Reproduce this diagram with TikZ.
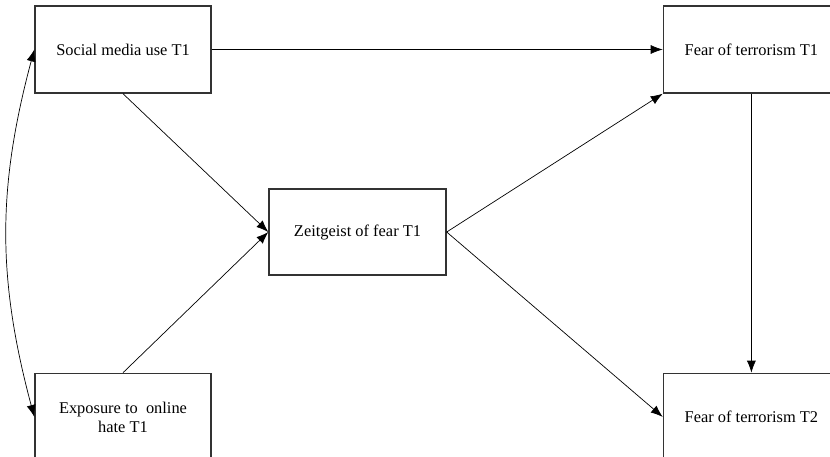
\documentclass[tikz,border=0pt]{standalone}
\usepackage{fontspec}
\setmainfont{Liberation Serif}
\usetikzlibrary{positioning, arrows.meta}

\tikzset{varbox/.style={rectangle, draw=black!80, line width=1.4pt, minimum width=176pt, minimum height=87pt, align=center, font=\fontsize{16.4}{19}\selectfont},
         path/.style={-{Latex[length=12pt,width=9pt]}, line width=0.7pt}}

\begin{document}
\begin{tikzpicture}[x=1pt, y=1pt, node distance=279pt and 451pt]
            \useasboundingbox (0,0) rectangle (830,-456);
            \clip (0,0) rectangle (830,-456);
            \node[varbox] (smu1) at (123,-49.5) {Social media use T1};
            \node[varbox, right=of smu1] (fear1) {Fear of terrorism T1};
            \node[varbox, below=of smu1] (hate1) {Exposure to\ \ online\\hate T1};
            \node[varbox, below=of fear1] (fear2) {Fear of terrorism T2};
            \node[varbox, minimum width=177pt, minimum height=86pt] (zeit1) at (357.5,-232) {Zeitgeist of fear T1};
            \draw[path] (smu1) -- (fear1);
            \draw[path] (smu1.south) -- (zeit1.west);
            \draw[path] (hate1.north) -- (zeit1.west);
            \draw[path] (zeit1.east) -- (fear1.south west);
            \draw[path] (zeit1.east) -- (fear2.west);
            \draw[path] (fear1) -- (fear2);
            \draw[path, {Latex[length=12pt,width=9pt]}-{Latex[length=12pt,width=9pt]}] (smu1.west) to[out=255, in=105] (hate1.west);
        \end{tikzpicture}
\end{document}
